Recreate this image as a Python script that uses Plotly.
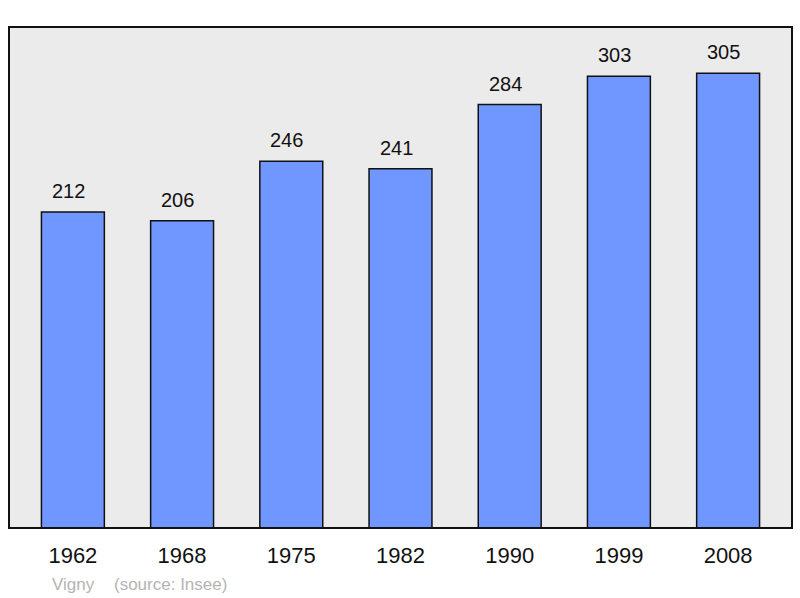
import plotly.graph_objects as go

years = ["1962", "1968", "1975", "1982", "1990", "1999", "2008"]
population = [212, 206, 246, 241, 284, 303, 305]

FONT = "Liberation Sans, Arial, sans-serif"

fig = go.Figure()
fig.add_trace(go.Bar(
    x=list(range(len(years))), y=population,
    width=0.576,
    marker=dict(color="#7097ff", line=dict(color="#111111", width=1.5)),
    hoverinfo="skip",
))

for i, v in enumerate(population):
    fig.add_annotation(x=i, y=v, text=str(v), showarrow=False,
                       yanchor="bottom", yshift=8, xshift=-4.5,
                       font=dict(family=FONT, size=20, color="#111111"))

fig.add_annotation(xref="paper", yref="paper", x=(50-9)/783, y=-(584-528)/501,
                   text="Vigny", showarrow=False,
                   xanchor="left", yanchor="middle",
                   font=dict(family=FONT, size=17, color="#b4b4b4"))
fig.add_annotation(xref="paper", yref="paper", x=(112-9)/783, y=-(584-528)/501,
                   text="(source: Insee)", showarrow=False,
                   xanchor="left", yanchor="middle",
                   font=dict(family=FONT, size=17, color="#b4b4b4"))

fig.add_shape(type="rect", xref="paper", yref="paper", x0=0, y0=0, x1=1, y1=1,
              line=dict(color="#111111", width=2), layer="above")

fig.update_layout(
    width=800, height=598,
    margin=dict(l=9, r=8, t=27, b=70),
    paper_bgcolor="white",
    plot_bgcolor="#ebebeb",
    showlegend=False,
    xaxis=dict(range=[-0.585, 6.585], showgrid=False, zeroline=False,
               tickmode="array", tickvals=list(range(len(years))), ticktext=years,
               ticks="", ticklabelstandoff=12,
               tickfont=dict(family=FONT, size=22, color="#111111")),
    yaxis=dict(range=[0, 336], showgrid=False, zeroline=False, showticklabels=False, ticks=""),
)

fig.write_html("out.html", config={"displayModeBar": False},
               post_script="document.body.style.margin='0';")
